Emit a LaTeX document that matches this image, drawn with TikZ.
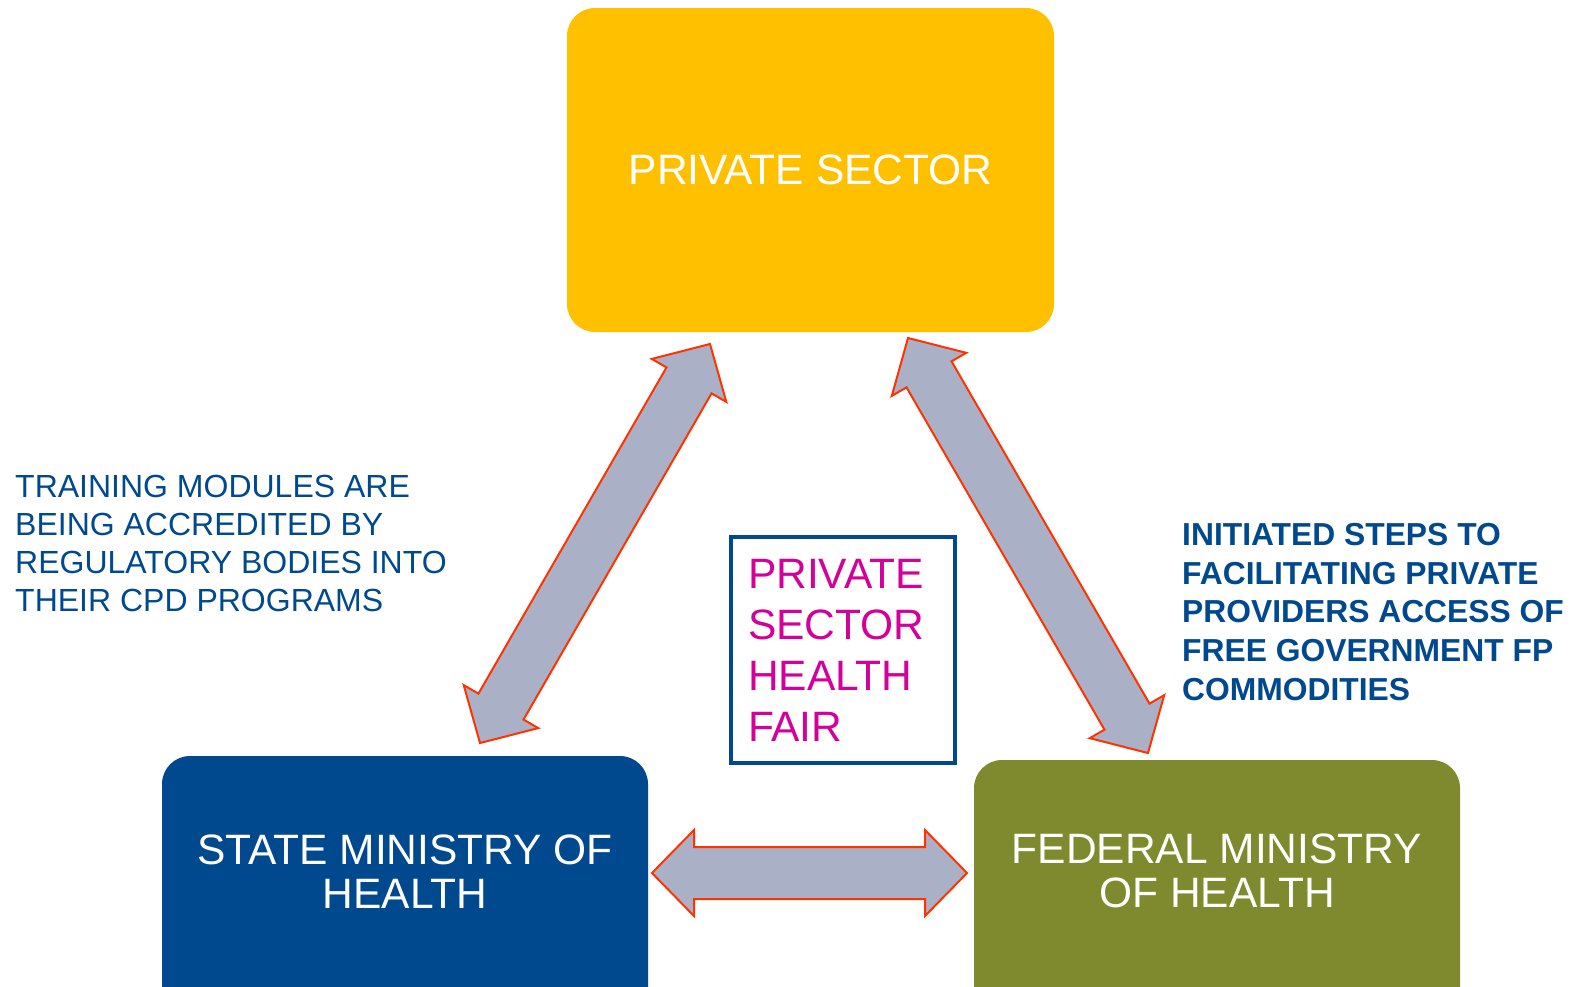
\documentclass[tikz,border=0pt]{standalone}
\usepackage{fontspec}
\setmainfont{Liberation Sans}
\usetikzlibrary{calc}

\definecolor{sectorYellow}{HTML}{FFC000}
\definecolor{stateBlue}{HTML}{00498F}
\definecolor{federalOlive}{HTML}{7F8A2E}
\definecolor{arrowGray}{HTML}{AAB0C6}
\definecolor{arrowRed}{HTML}{FF3300}
\definecolor{fairMagenta}{HTML}{D4009A}

\def\headLength{42pt}
\def\headHalf{43pt}
\def\shaftHalf{26pt}

\tikzset{
    partner/.style={rectangle, rounded corners=28pt, minimum width=486pt, inner sep=0pt,
        text=white, align=center, font=\fontsize{42.5}{44}\selectfont},
    blockArrow/.style={fill=arrowGray, draw=arrowRed, line width=2pt},
    note/.style={anchor=north west, inner sep=0pt, align=left, text=stateBlue,
        font=\fontsize{32}{38}\selectfont}
}

\begin{document}
\begin{tikzpicture}[x=1pt,y=-1pt]
            \useasboundingbox (0,0) rectangle (1574,986);
            \clip (0,0) rectangle (1574,986);

            \begin{scope}

                \node [partner, fill=sectorYellow, minimum width=487pt, minimum height=324pt] (privateSector) at (810.5,170) {PRIVATE SECTOR};
                \node [partner, fill=stateBlue, minimum height=260pt, text depth=28pt] (stateMinistry) at (405,886) {STATE MINISTRY OF\\HEALTH};
                \node [partner, fill=federalOlive, minimum height=260pt, text depth=38pt] (federalMinistry) at (1217,890) {FEDERAL MINISTRY\\OF HEALTH};

                \node [draw=stateBlue, line width=4pt, minimum width=224pt, minimum height=226pt, inner sep=0pt,
                       text width=190pt, align=left, text=fairMagenta, font=\fontsize{42.5}{51}\selectfont]
                       (healthFair) at (843,650) {PRIVATE\\SECTOR\\HEALTH\\FAIR};

                \node [note] (trainingNote) at (15,475) {TRAINING MODULES ARE\\BEING ACCREDITED BY\\REGULATORY BODIES INTO\\THEIR CPD PROGRAMS};
                \node [note, font=\bfseries\fontsize{31.8}{38.7}\selectfont] (stepsNote) at (1182,523) {INITIATED STEPS TO\\FACILITATING PRIVATE\\PROVIDERS ACCESS OF\\FREE GOVERNMENT FP\\COMMODITIES};

                \coordinate (psLeft) at (710,344);
                \coordinate (smTop) at (480,743);
                \coordinate (psRight) at (908,338);
                \coordinate (fmTop) at (1148,753);
                \coordinate (smRight) at (652,873);
                \coordinate (fmLeft) at (967,873);

                \foreach \tipA/\tipB in {psLeft/smTop, psRight/fmTop, smRight/fmLeft}{%
                        \draw [blockArrow] (\tipA)
                            -- ($(\tipA)!\headLength!(\tipB)!\headHalf!90:(\tipB)$)
                            -- ($(\tipA)!\headLength!(\tipB)!\shaftHalf!90:(\tipB)$)
                            -- ($(\tipB)!\headLength!(\tipA)!\shaftHalf!-90:(\tipA)$)
                            -- ($(\tipB)!\headLength!(\tipA)!\headHalf!-90:(\tipA)$)
                            -- (\tipB)
                            -- ($(\tipB)!\headLength!(\tipA)!\headHalf!90:(\tipA)$)
                            -- ($(\tipB)!\headLength!(\tipA)!\shaftHalf!90:(\tipA)$)
                            -- ($(\tipA)!\headLength!(\tipB)!\shaftHalf!-90:(\tipB)$)
                            -- ($(\tipA)!\headLength!(\tipB)!\headHalf!-90:(\tipB)$)
                            -- cycle;
                    }

            \end{scope}
        \end{tikzpicture}
\end{document}
